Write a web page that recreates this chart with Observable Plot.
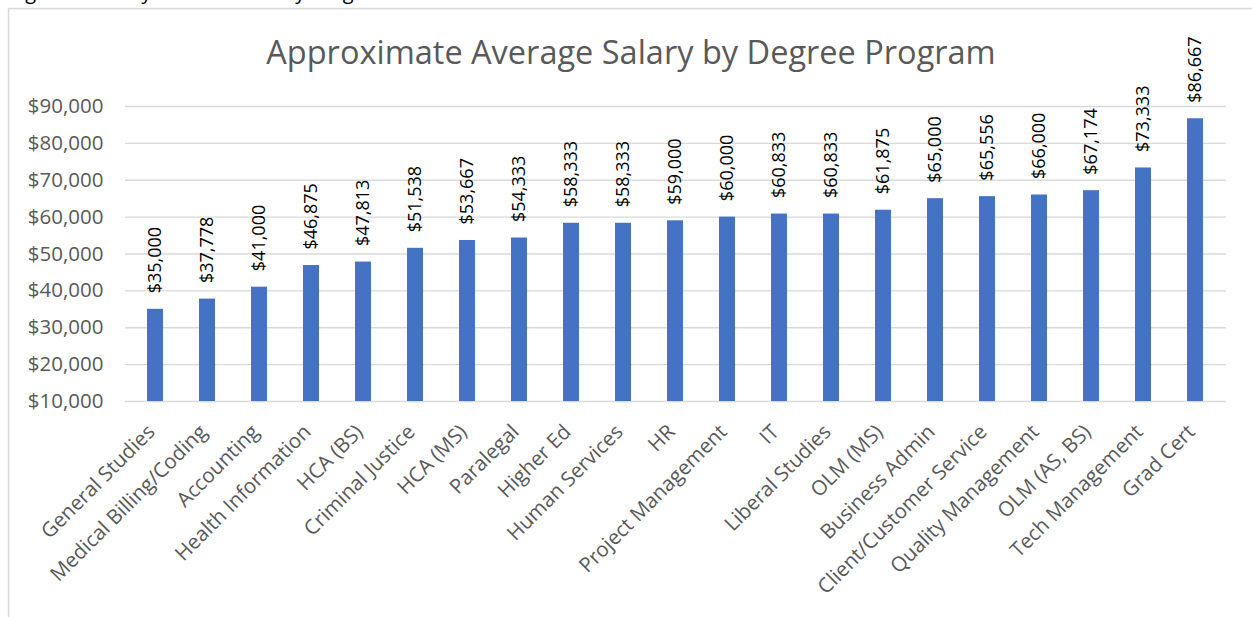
<!DOCTYPE html>
<html>
<head>
<meta charset="utf-8">
<script src="https://cdn.jsdelivr.net/npm/d3@7"></script>
<script src="https://cdn.jsdelivr.net/npm/@observablehq/plot@0.6"></script>
<style>
  html, body { margin: 0; padding: 0; background: #fff; }
  #chart svg { display: block; }
</style>
</head>
<body>
<div id="chart"></div>
<script>
const programs = [
  "General Studies", "Medical Billing/Coding", "Accounting", "Health Information",
  "HCA (BS)", "Criminal Justice", "HCA (MS)", "Paralegal", "Higher Ed",
  "Human Services", "HR", "Project Management", "IT", "Liberal Studies",
  "OLM (MS)", "Business Admin", "Client/Customer Service", "Quality Management",
  "OLM (AS, BS)", "Tech Management", "Grad Cert"
];
const salaries = [
  35000, 37778, 41000, 46875, 47813, 51538, 53667, 54333, 58333,
  58333, 59000, 60000, 60833, 60833, 61875, 65000, 65556, 66000,
  67174, 73333, 86667
];
const yTicks = [10000, 20000, 30000, 40000, 50000, 60000, 70000, 80000, 90000];
const chartTitle = "Approximate Average Salary by Degree Program";
const captionText = "Figure 6: Salary of Graduates by Program";

const data = programs.map((p, i) => ({program: p, salary: salaries[i]}));
const money = d => "$" + d3.format(",")(d);
const FONT = "'Open Sans', sans-serif";
const GREY = "#595959";

const chart = Plot.plot({
  width: 1252,
  height: 617,
  marginLeft: 125,
  marginRight: 26,
  marginTop: 106,
  marginBottom: 216,
  style: {fontFamily: FONT, background: "#fff"},
  x: {domain: programs, paddingInner: 0.69, paddingOuter: 0.345, label: null},
  y: {domain: [10000, 90000], label: null},
  marks: [
    Plot.gridY(yTicks, {stroke: "#d9d9d9", strokeOpacity: 1, strokeWidth: 1.3}),
    Plot.axisY(yTicks, {tickSize: 0, tickPadding: 22, tickFormat: money, fontSize: 20.5, fill: GREY, label: null}),
    Plot.axisX({tickSize: 0, tickRotate: -45, tickPadding: 27, dx: -4, fontSize: 20.5, fill: GREY, label: null}),
    Plot.barY(data, {x: "program", y1: 10000, y2: "salary", fill: "#4472C4"}),
    Plot.text(data, {x: "program", y: "salary", text: d => money(d.salary), rotate: -90,
      textAnchor: "start", lineAnchor: "middle", dy: -16, fontSize: 18, fill: "#000"}),
    Plot.text([chartTitle], {frameAnchor: "top", dx: -45, dy: -43, lineAnchor: "bottom", fontSize: 32.5, fill: GREY})
  ]
});

const svg = d3.select(chart);
svg.insert("rect", ":first-child")
  .attr("x", 8.5).attr("y", 8.5).attr("width", 1300).attr("height", 700)
  .attr("fill", "none").attr("stroke", "#d9d9d9").attr("stroke-width", 1.5);
svg.append("text")
  .attr("x", 10).attr("y", -1)
  .attr("text-anchor", "start")
  .attr("font-family", FONT).attr("font-size", 20).attr("fill", "#000")
  .text(captionText);

document.getElementById("chart").appendChild(chart);
</script>
</body>
</html>
